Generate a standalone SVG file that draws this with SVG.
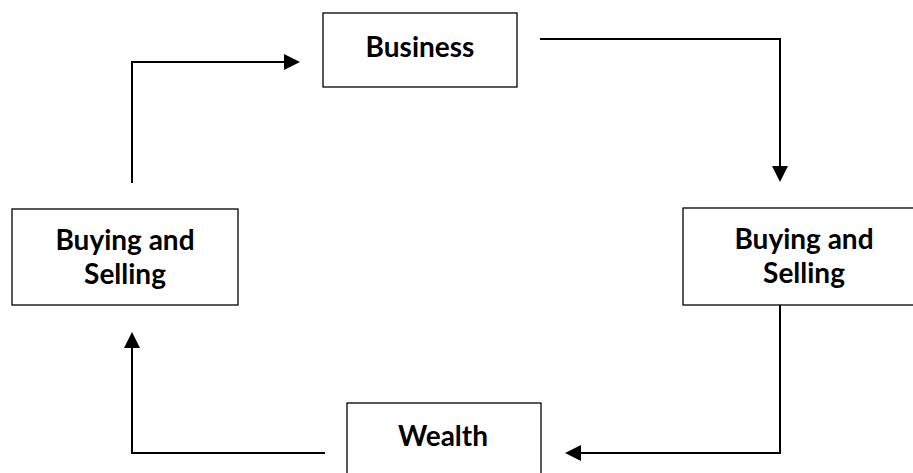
<svg xmlns="http://www.w3.org/2000/svg" width="913" height="473" viewBox="0 0 913 473">
<style>
.box{fill:#fff;stroke:#000;stroke-width:1.3}
.lbl{font-family:Lato,"Open Sans","Liberation Sans",sans-serif;font-weight:bold;font-size:28px;fill:#000;text-anchor:middle}
.con{fill:none;stroke:#000;stroke-width:2}
.head{fill:#000}
</style>
<rect width="913" height="473" fill="#fff"/>
<g id="connectors">
<path class="con" d="M132,183 V62 H286"/>
<path class="head" d="M284,54 L300,62 L284,70 z"/>
<path class="con" d="M540,39 H780 V168"/>
<path class="head" d="M772,166 L780,182 L788,166 z"/>
<path class="con" d="M780,305 V453 H580"/>
<path class="head" d="M581,445 L565,453 L581,461 z"/>
<path class="con" d="M325,453 H132 V347"/>
<path class="head" d="M124,348 L132,332 L140,348 z"/>
</g>
<g id="business">
<rect class="box" x="323" y="13" width="194" height="74"/>
<text class="lbl" x="420" y="57">Business</text>
</g>
<g id="buying-left">
<rect class="box" x="12" y="209" width="226" height="96"/>
<text class="lbl" x="125" y="250">Buying and</text>
<text class="lbl" x="125" y="284">Selling</text>
</g>
<g id="buying-right">
<rect class="box" x="683" y="208" width="232" height="97"/>
<text class="lbl" x="804" y="249">Buying and</text>
<text class="lbl" x="804" y="283">Selling</text>
</g>
<g id="wealth">
<rect class="box" x="347" y="403" width="194" height="80"/>
<text class="lbl" x="443" y="446">Wealth</text>
</g>
</svg>
